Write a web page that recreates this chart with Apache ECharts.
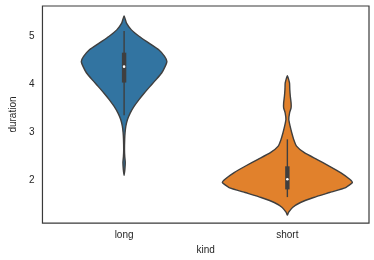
<!DOCTYPE html>
<html><head><meta charset="utf-8">
<script src="https://cdn.jsdelivr.net/npm/echarts@6/dist/echarts.min.js"></script>
<style>html,body{margin:0;padding:0;background:#fff}#c{width:374px;height:260px}</style>
</head><body><div id="c"></div>
<script>
var categories = ['long', 'short'];
var yTicks = [2, 3, 4, 5];
// density profiles: [duration value, relative density]
var longProfile = [[5.414,0],[5.263,0.037],[5.124,0.112],[4.986,0.234],[4.849,0.382],[4.710,0.531],[4.572,0.620],[4.468,0.655],[4.365,0.629],[4.228,0.575],[4.090,0.490],[3.951,0.398],[3.814,0.310],[3.676,0.228],[3.538,0.155],[3.400,0.095],[3.262,0.052],[3.124,0.027],[2.986,0.015],[2.848,0.009],[2.641,0.006],[2.496,0.010],[2.372,0.018],[2.227,0.012],[2.103,0]];
var shortProfile = [[4.172,0],[4.021,0.033],[3.883,0.037],[3.744,0.045],[3.607,0.057],[3.504,0.057],[3.401,0.034],[3.262,0.022],[3.123,0.042],[2.987,0.067],[2.848,0.097],[2.710,0.140],[2.573,0.260],[2.434,0.450],[2.296,0.640],[2.159,0.815],[2.021,0.955],[1.952,0.995],[1.849,0.893],[1.745,0.647],[1.642,0.402],[1.538,0.201],[1.435,0.079],[1.331,0.018],[1.276,0]];
// box stats: [whisker low, q1, median, q3, whisker high]
var longBox = [3.35, 4.03, 4.36, 4.65, 5.10];
var shortBox = [1.65, 1.81, 2.02, 2.29, 2.85];
var colors = ['#3274A1', '#E1812C'];

var profiles = [longProfile, shortProfile];
var boxes = [longBox, shortBox];

var chart = echarts.init(document.getElementById('c'), null, {renderer: 'canvas'});
var font = "'Liberation Sans', Arial, sans-serif";
chart.setOption({
  animation: false,
  grid: {left: 33, right: 5, top: 6, bottom: 36, show: true, borderColor: '#3a3a3a', borderWidth: 1.2},
  xAxis: {
    type: 'category', data: categories,
    axisLine: {show: false}, axisTick: {show: false}, splitLine: {show: false},
    axisLabel: {color: '#262626', fontSize: 10, fontFamily: font, margin: 7},
    name: 'kind', nameLocation: 'middle', nameGap: 19,
    nameTextStyle: {color: '#262626', fontSize: 10, fontFamily: font}
  },
  yAxis: {
    type: 'value', min: 1.11, max: 5.62,
    axisLine: {show: false}, axisTick: {show: false}, splitLine: {show: false},
    axisLabel: {color: '#262626', fontSize: 10, fontFamily: font, margin: 8, customValues: yTicks},
    name: 'duration', nameLocation: 'middle', nameGap: 19,
    nameTextStyle: {color: '#262626', fontSize: 10, fontFamily: font}
  },
  series: [{
    type: 'custom',
    data: categories.map(function (c, i) { return [i]; }),
    renderItem: function (params, api) {
      var idx = api.value(0);
      var band = api.size([1, 0])[0];
      var half = band * 0.4;
      var cx = api.coord([idx, 0])[0];
      var prof = profiles[idx];
      var right = [], left = [];
      prof.forEach(function (p) {
        var y = api.coord([idx, p[0]])[1];
        right.push([cx + p[1] * half, y]);
        left.unshift([cx - p[1] * half, y]);
      });
      var pts = right.concat(left.slice(1, left.length - 1));
      var b = boxes[idx];
      var yw0 = api.coord([idx, b[0]])[1], yq1 = api.coord([idx, b[1]])[1],
          ym = api.coord([idx, b[2]])[1], yq3 = api.coord([idx, b[3]])[1],
          yw1 = api.coord([idx, b[4]])[1];
      return {
        type: 'group',
        children: [
          {type: 'polygon', shape: {points: pts, smooth: 0.15},
           style: {fill: colors[idx], stroke: '#3f3f3f', lineWidth: 1.4}},
          {type: 'line', shape: {x1: cx, y1: yw0, x2: cx, y2: yw1},
           style: {stroke: '#3f3f3f', lineWidth: 1.4}},
          {type: 'rect', shape: {x: cx - 2.2, y: yq3, width: 4.4, height: yq1 - yq3},
           style: {fill: '#3f3f3f'}},
          {type: 'circle', shape: {cx: cx, cy: ym, r: 1.3},
           style: {fill: '#ffffff'}}
        ]
      };
    }
  }]
});
</script></body></html>
